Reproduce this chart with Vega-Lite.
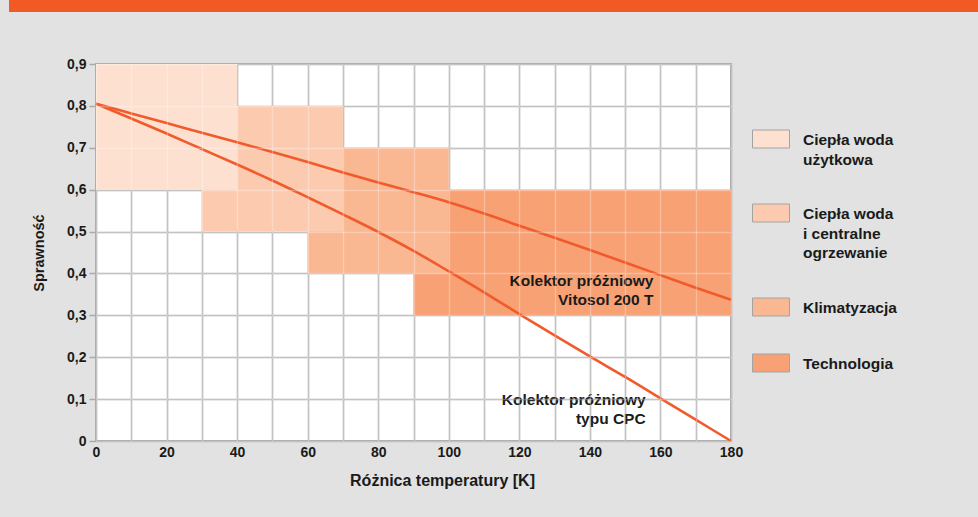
{
  "$schema": "https://vega.github.io/schema/vega-lite/v6.json",
  "background": "#e1e2e1",
  "autosize": {"type": "none"},
  "padding": {"left": 96, "top": 0, "right": 882, "bottom": 517},
  "title": {
    "text": "Rys. B.1.5 - Krzywe sprawności kolektora",
    "anchor": "start",
    "frame": "group",
    "orient": "top",
    "offset": -3.3,
    "baseline": "alphabetic",
    "dx": -71,
    "zindex": 1,
    "color": "white",
    "font": "Liberation Sans",
    "fontSize": 15.5,
    "fontWeight": "bold"
  },
  "config": {"font": "Liberation Sans"},
  "align": "none",
  "bounds": "full",
  "spacing": 44,
  "vconcat": [
    {
      "width": 882,
      "height": 12,
      "view": {"stroke": null},
      "data": {"values": [{"od": 0, "do": 1}]},
      "mark": {"type": "rect", "color": "#f15a24"},
      "encoding": {
        "x": {"field": "od", "type": "quantitative", "scale": {"domain": [0, 1], "range": [-87, 882], "nice": false}, "axis": null},
        "x2": {"field": "do"}
      }
    },
    {
      "width": 635,
      "height": 377,
      "view": {"fill": "white", "stroke": "#ababab", "strokeWidth": 2},
      "layer": [
        {
          "data": {
            "values": [
              {"zastosowanie": "Technologia", "od_K": 90, "do_K": 180, "od_eta": 0.3, "do_eta": 0.6},
              {"zastosowanie": "Klimatyzacja", "od_K": 60, "do_K": 100, "od_eta": 0.4, "do_eta": 0.7},
              {"zastosowanie": "Ciepła woda i centralne ogrzewanie", "od_K": 30, "do_K": 70, "od_eta": 0.5, "do_eta": 0.8},
              {"zastosowanie": "Ciepła woda użytkowa", "od_K": 0, "do_K": 40, "od_eta": 0.6, "do_eta": 0.9}
            ]
          },
          "mark": {"type": "rect"},
          "encoding": {
            "x": {
              "field": "od_K",
              "type": "quantitative",
              "scale": {"domain": [0, 180], "nice": false, "zero": false},
              "axis": {
                "values": [0, 10, 20, 30, 40, 50, 60, 70, 80, 90, 100, 110, 120, 130, 140, 150, 160, 170, 180],
                "labelExpr": "datum.value % 20 == 0 ? datum.label : ''",
                "grid": true,
                "gridColor": "#a9a9a9",
                "gridWidth": 1.5,
                "ticks": false,
                "domain": false,
                "labelFontSize": 14,
                "labelFontWeight": "bold",
                "labelColor": "#1a1a1a",
                "labelPadding": 4,
                "labelFlush": false,
                "title": "Różnica temperatury [K]",
                "titleFontSize": 16,
                "titleFontWeight": "bold",
                "titleColor": "#1a1a1a",
                "titlePadding": 13,
                "titleX": 346,
                "zindex": 0
              }
            },
            "x2": {"field": "do_K"},
            "y": {
              "field": "od_eta",
              "type": "quantitative",
              "scale": {"domain": [0, 0.9], "nice": false, "zero": false},
              "axis": {
                "values": [0, 0.1, 0.2, 0.3, 0.4, 0.5, 0.6, 0.7, 0.8, 0.9],
                "labelExpr": "replace(format(datum.value, '.1~f'), '.', ',')",
                "grid": true,
                "gridColor": "#a9a9a9",
                "gridWidth": 1.5,
                "ticks": true,
                "tickSize": 7,
                "tickColor": "#a9a9a9",
                "tickWidth": 1.5,
                "domain": false,
                "labelFontSize": 14,
                "labelFontWeight": "bold",
                "labelColor": "#1a1a1a",
                "labelPadding": 3,
                "title": "Sprawność",
                "titleFontSize": 14.5,
                "titleFontWeight": "bold",
                "titleColor": "#1a1a1a",
                "titlePadding": 20,
                "zindex": 0
              }
            },
            "y2": {"field": "do_eta"},
            "color": {
              "field": "zastosowanie",
              "type": "nominal",
              "scale": {
                "domain": ["Ciepła woda użytkowa", "Ciepła woda i centralne ogrzewanie", "Klimatyzacja", "Technologia"],
                "range": ["#fde0cf", "#fccbaf", "#f9b792", "#f7a174"]
              },
              "legend": {
                "orient": "none",
                "legendX": 656,
                "legendY": 120,
                "padding": 0,
                "title": null,
                "symbolType": "M-1,-0.486H1V0.486H-1Z",
                "symbolSize": 1369,
                "symbolStrokeColor": "#a3a3a3",
                "symbolStrokeWidth": 1,
                "symbolOpacity": 1,
                "labelFontSize": 15.5,
                "labelFontWeight": "bold",
                "labelColor": "#1a1a1a",
                "labelOffset": 13,
                "labelBaseline": "top",
                "labelLimit": 300,
                "rowPadding": 26,
                "labelExpr": "datum.label == 'Ciepła woda użytkowa' ? ['Ciepła woda', 'użytkowa'] : datum.label == 'Ciepła woda i centralne ogrzewanie' ? ['Ciepła woda', 'i centralne', 'ogrzewanie'] : datum.label",
                "encode": {
                  "labels": {"update": {"dy": {"value": -6}, "lineHeight": {"value": 19.5}}},
                  "symbols": {"update": {"stroke": {"value": "#a3a3a3"}, "strokeWidth": {"value": 1}}}
                }
              }
            }
          }
        },
        {
          "data": {
            "values": [
              {"kolektor": "Vitosol 200 T", "roznica_K": 0, "sprawnosc": 0.805},
              {"kolektor": "Vitosol 200 T", "roznica_K": 10, "sprawnosc": 0.782},
              {"kolektor": "Vitosol 200 T", "roznica_K": 20, "sprawnosc": 0.759},
              {"kolektor": "Vitosol 200 T", "roznica_K": 30, "sprawnosc": 0.736},
              {"kolektor": "Vitosol 200 T", "roznica_K": 40, "sprawnosc": 0.713},
              {"kolektor": "Vitosol 200 T", "roznica_K": 50, "sprawnosc": 0.69},
              {"kolektor": "Vitosol 200 T", "roznica_K": 60, "sprawnosc": 0.666},
              {"kolektor": "Vitosol 200 T", "roznica_K": 70, "sprawnosc": 0.641},
              {"kolektor": "Vitosol 200 T", "roznica_K": 80, "sprawnosc": 0.617},
              {"kolektor": "Vitosol 200 T", "roznica_K": 90, "sprawnosc": 0.594},
              {"kolektor": "Vitosol 200 T", "roznica_K": 100, "sprawnosc": 0.57},
              {"kolektor": "Vitosol 200 T", "roznica_K": 110, "sprawnosc": 0.543},
              {"kolektor": "Vitosol 200 T", "roznica_K": 120, "sprawnosc": 0.514},
              {"kolektor": "Vitosol 200 T", "roznica_K": 130, "sprawnosc": 0.485},
              {"kolektor": "Vitosol 200 T", "roznica_K": 140, "sprawnosc": 0.456},
              {"kolektor": "Vitosol 200 T", "roznica_K": 150, "sprawnosc": 0.426},
              {"kolektor": "Vitosol 200 T", "roznica_K": 160, "sprawnosc": 0.396},
              {"kolektor": "Vitosol 200 T", "roznica_K": 170, "sprawnosc": 0.366},
              {"kolektor": "Vitosol 200 T", "roznica_K": 180, "sprawnosc": 0.337},
              {"kolektor": "CPC", "roznica_K": 0, "sprawnosc": 0.805},
              {"kolektor": "CPC", "roznica_K": 10, "sprawnosc": 0.77},
              {"kolektor": "CPC", "roznica_K": 20, "sprawnosc": 0.734},
              {"kolektor": "CPC", "roznica_K": 30, "sprawnosc": 0.697},
              {"kolektor": "CPC", "roznica_K": 40, "sprawnosc": 0.66},
              {"kolektor": "CPC", "roznica_K": 50, "sprawnosc": 0.622},
              {"kolektor": "CPC", "roznica_K": 60, "sprawnosc": 0.582},
              {"kolektor": "CPC", "roznica_K": 70, "sprawnosc": 0.541},
              {"kolektor": "CPC", "roznica_K": 80, "sprawnosc": 0.499},
              {"kolektor": "CPC", "roznica_K": 90, "sprawnosc": 0.454},
              {"kolektor": "CPC", "roznica_K": 100, "sprawnosc": 0.405},
              {"kolektor": "CPC", "roznica_K": 110, "sprawnosc": 0.355},
              {"kolektor": "CPC", "roznica_K": 120, "sprawnosc": 0.303},
              {"kolektor": "CPC", "roznica_K": 130, "sprawnosc": 0.252},
              {"kolektor": "CPC", "roznica_K": 140, "sprawnosc": 0.202},
              {"kolektor": "CPC", "roznica_K": 150, "sprawnosc": 0.153},
              {"kolektor": "CPC", "roznica_K": 160, "sprawnosc": 0.102},
              {"kolektor": "CPC", "roznica_K": 170, "sprawnosc": 0.051},
              {"kolektor": "CPC", "roznica_K": 180, "sprawnosc": 0.0}
            ]
          },
          "mark": {"type": "line", "color": "#f15a2b", "strokeWidth": 2.6, "interpolate": "monotone"},
          "encoding": {
            "x": {
              "field": "roznica_K",
              "type": "quantitative",
              "axis": {
                "orient": "top",
                "values": [0, 10, 20, 30, 40, 50, 60, 70, 80, 90, 100, 110, 120, 130, 140, 150, 160, 170, 180],
                "grid": true,
                "gridColor": "white",
                "gridOpacity": 0.3,
                "gridWidth": 1.3,
                "labels": false,
                "ticks": false,
                "domain": false,
                "title": null,
                "zindex": 1
              }
            },
            "y": {
              "field": "sprawnosc",
              "type": "quantitative",
              "axis": {
                "orient": "right",
                "values": [0, 0.1, 0.2, 0.3, 0.4, 0.5, 0.6, 0.7, 0.8, 0.9],
                "grid": true,
                "gridColor": "white",
                "gridOpacity": 0.3,
                "gridWidth": 1.3,
                "labels": false,
                "ticks": false,
                "domain": false,
                "title": null,
                "zindex": 1
              }
            },
            "detail": {"field": "kolektor", "type": "nominal"}
          }
        },
        {
          "data": {
            "values": [
              {"opis": "Kolektor próżniowy\nVitosol 200 T", "roznica_K": 158, "sprawnosc": 0.381},
              {"opis": "Kolektor próżniowy\ntypu CPC", "roznica_K": 155.8, "sprawnosc": 0.097}
            ]
          },
          "mark": {
            "type": "text",
            "align": "right",
            "baseline": "middle",
            "lineBreak": "\n",
            "lineHeight": 19,
            "fontSize": 15.5,
            "fontWeight": "bold",
            "color": "#1a1a1a"
          },
          "encoding": {
            "x": {"field": "roznica_K", "type": "quantitative", "axis": null},
            "y": {"field": "sprawnosc", "type": "quantitative", "axis": null},
            "text": {"field": "opis", "type": "nominal"}
          }
        }
      ],
      "resolve": {"axis": {"x": "independent", "y": "independent"}}
    }
  ]
}
